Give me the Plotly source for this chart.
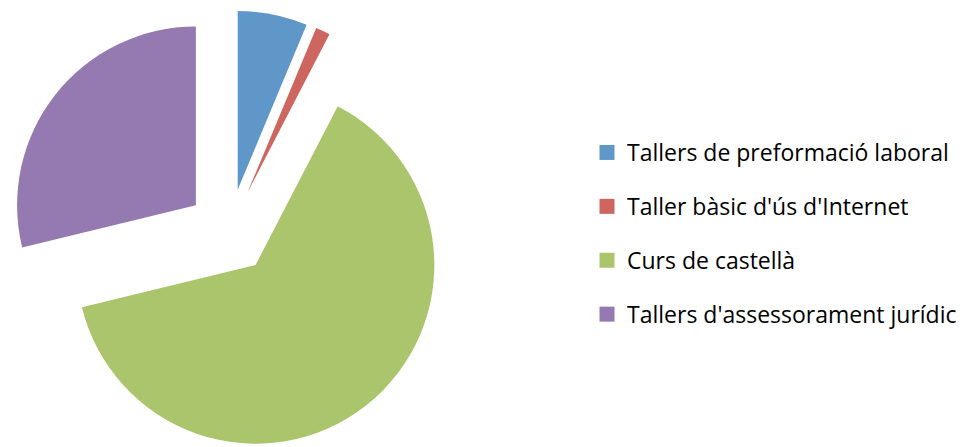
import plotly.graph_objects as go

categories = ["Tallers de preformació laboral", "Taller bàsic d'ús d'Internet",
              "Curs de castellà", "Tallers d'assessorament jurídic"]
values = [6.3, 1.3, 63.6, 28.8]
colors = ["#5F97C9", "#CD665F", "#AAC56C", "#947AB1"]

W, H = 968, 447

fig = go.Figure()
fig.add_trace(go.Pie(
    labels=categories, values=values, sort=False, direction="clockwise",
    rotation=0, pull=[0.238] * 4, textinfo="none", showlegend=False,
    marker=dict(colors=colors, line=dict(width=0)),
    domain=dict(x=[0, 442.6 / W], y=[0, 1]),
))
for i, (c, col) in enumerate(zip(categories, colors)):
    fig.add_trace(go.Scatter(
        x=[None], y=[None], mode="markers", name=c, legendgroup=f"g{i}",
        marker=dict(symbol="square", size=15, color=col, line=dict(width=0)),
    ))

fig.update_layout(
    width=W, height=H, margin=dict(l=0, r=0, t=0, b=0),
    paper_bgcolor="white", plot_bgcolor="white",
    xaxis=dict(visible=False), yaxis=dict(visible=False),
    legend=dict(x=579 / W, y=(H - 123) / H, xanchor="left", yanchor="top",
                font=dict(family="Open Sans", size=23, color="#000000"),
                tracegroupgap=21, itemclick=False),
)
fig.write_html("out.html")
